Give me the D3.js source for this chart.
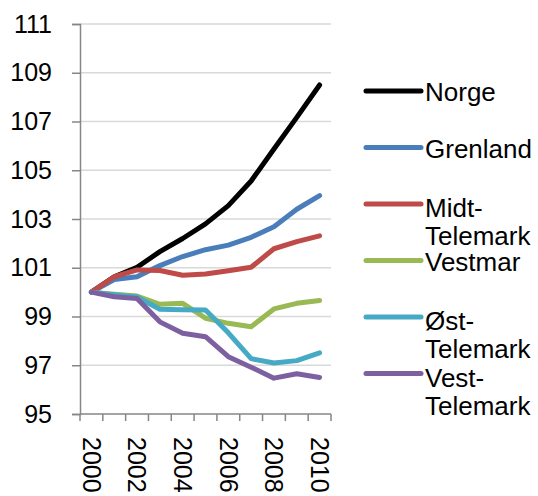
<!DOCTYPE html>
<html>
<head>
<meta charset="utf-8">
<script src="https://cdn.jsdelivr.net/npm/d3@7"></script>
<style>
  body { margin: 0; background: #fff; }
  text { font-family: 'Liberation Sans', Arial, sans-serif; fill: #000; }
</style>
</head>
<body>
<div id="chart"></div>
<script>
var years = ['2000', '2001', '2002', '2003', '2004', '2005', '2006', '2007', '2008', '2009', '2010']
var yTicks = [95, 97, 99, 101, 103, 105, 107, 109, 111]
var xLabels = ['2000', '2002', '2004', '2006', '2008', '2010']

var norge = [100, 100.63, 101.02, 101.66, 102.2, 102.8, 103.55, 104.56, 105.87, 107.17, 108.5]
var grenland = [100, 100.52, 100.63, 101.09, 101.46, 101.74, 101.93, 102.25, 102.68, 103.4, 103.96]
var midt = [100, 100.63, 100.91, 100.89, 100.69, 100.74, 100.88, 101.02, 101.78, 102.07, 102.31]
var vestmar = [100, 99.91, 99.84, 99.5, 99.54, 98.93, 98.72, 98.58, 99.31, 99.54, 99.66]
var ost = [100, 99.89, 99.8, 99.3, 99.28, 99.27, 98.33, 97.27, 97.09, 97.19, 97.51]
var vest = [100, 99.81, 99.74, 98.78, 98.31, 98.17, 97.35, 96.92, 96.47, 96.65, 96.5]

var seriesNames = [['Norge'], ['Grenland'], ['Midt-', 'Telemark'], ['Vestmar'], ['Øst-', 'Telemark'], ['Vest-', 'Telemark']]
var seriesValues = [norge, grenland, midt, vestmar, ost, vest]
var colors = ['#000000', '#4a7ebb', '#be4b48', '#98b954', '#46aac5', '#7d60a0']

var width = 538
var height = 496
var margin = { top: 24, left: 80, right: 207, bottom: 82 }

var svg = d3.select('#chart')
  .append('svg')
  .attr('width', width)
  .attr('height', height)

var x = d3.scaleBand()
  .domain(years)
  .range([margin.left, width - margin.right])

var y = d3.scaleLinear()
  .domain([95, 111])
  .range([height - margin.bottom, margin.top])

// gridlines
svg.selectAll('.grid')
  .data(yTicks.slice(1))
  .enter()
  .append('line')
  .attr('x1', x.range()[0])
  .attr('x2', x.range()[1])
  .attr('y1', d => y(d))
  .attr('y2', d => y(d))
  .attr('stroke', '#d9d9d9')
  .attr('stroke-width', 1.5)

// y axis
var yAxis = svg.append('g')
  .attr('transform', `translate(${x.range()[0]},0)`)
  .call(d3.axisLeft(y).tickValues(yTicks).tickSize(8).tickPadding(20))
yAxis.select('.domain').attr('stroke', '#868686').attr('stroke-width', 1.5)
yAxis.selectAll('.tick line').attr('stroke', '#868686').attr('stroke-width', 1.5)
yAxis.selectAll('.tick text')
  .attr('font-size', 25)
  .attr('font-family', "'Liberation Sans', Arial, sans-serif")
  .attr('fill', '#000')

// x axis
var xAxisY = y(95)
svg.append('line')
  .attr('x1', x.range()[0])
  .attr('x2', x.range()[1])
  .attr('y1', xAxisY)
  .attr('y2', xAxisY)
  .attr('stroke', '#868686')
  .attr('stroke-width', 1.5)

var bounds = years.map(d => x(d)).concat([x(years[years.length - 1]) + x.bandwidth()])
svg.selectAll('.xtick')
  .data(bounds)
  .enter()
  .append('line')
  .attr('x1', d => d)
  .attr('x2', d => d)
  .attr('y1', xAxisY)
  .attr('y2', xAxisY + 7)
  .attr('stroke', '#868686')
  .attr('stroke-width', 1.5)

svg.selectAll('.x-label')
  .data(xLabels)
  .enter()
  .append('text')
  .attr('class', 'x-label')
  .attr('transform', d => `translate(${x(d) + x.bandwidth() / 2},${xAxisY + 23}) rotate(90)`)
  .attr('dy', '0.35em')
  .attr('font-size', 25)
  .text(d => d)

// lines
var line = d3.line()
  .x((d, i) => x(years[i]) + x.bandwidth() / 2)
  .y(d => y(d))

svg.selectAll('.series')
  .data(seriesValues)
  .enter()
  .append('path')
  .attr('class', 'series')
  .attr('d', d => line(d))
  .attr('fill', 'none')
  .attr('stroke', (d, i) => colors[i])
  .attr('stroke-width', 5)
  .attr('stroke-linejoin', 'round')
  .attr('stroke-linecap', 'round')

// legend
var legend = svg.selectAll('.legend')
  .data(seriesNames)
  .enter()
  .append('g')
  .attr('class', 'legend')
  .attr('transform', (d, i) => `translate(366,${91 + i * 56.5})`)

legend.append('line')
  .attr('x1', 0)
  .attr('x2', 55)
  .attr('stroke', (d, i) => colors[i])
  .attr('stroke-width', 5)
  .attr('stroke-linecap', 'round')

legend.append('text')
  .attr('x', 59)
  .attr('y', d => d.length > 1 ? 13 : 10)
  .attr('font-size', 26)
  .selectAll('tspan')
  .data(d => d)
  .enter()
  .append('tspan')
  .attr('x', 59)
  .attr('dy', (d, i) => i === 0 ? 0 : 28)
  .text(d => d)
</script>
</body>
</html>
